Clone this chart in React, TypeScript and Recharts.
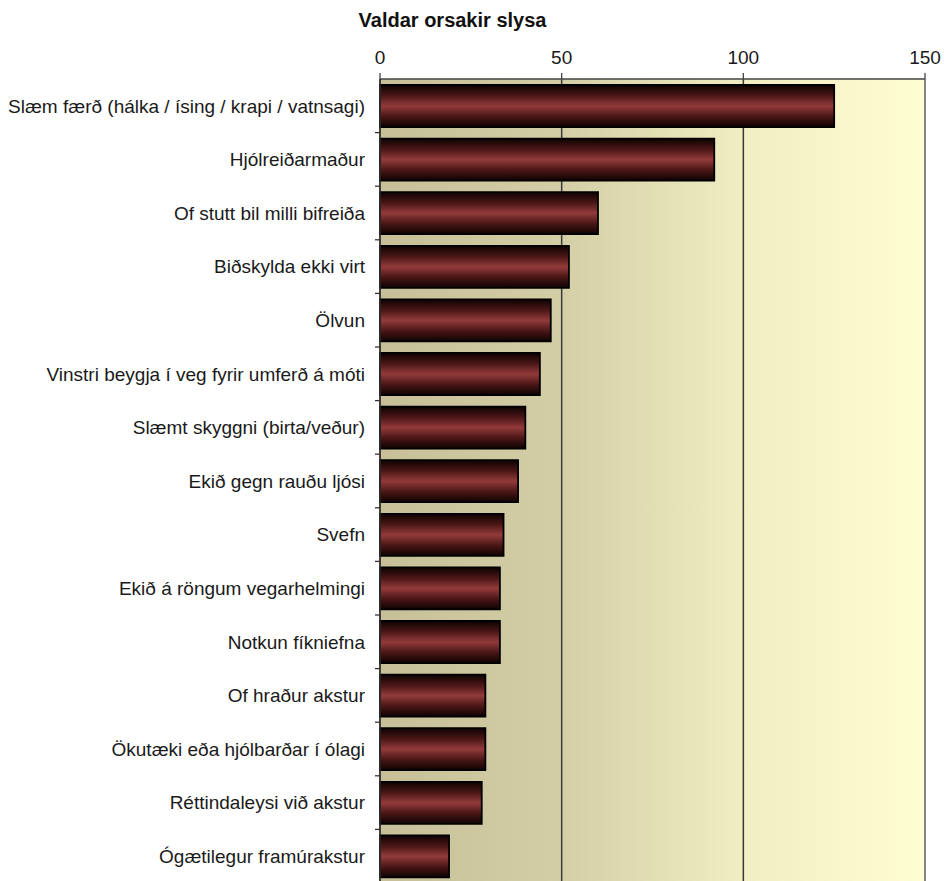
import React from "react";
import { BarChart, Bar, XAxis, YAxis, CartesianGrid, ReferenceLine } from "recharts";

const categories: string[] = [
  "Slæm færð (hálka / ísing / krapi / vatnsagi)",
  "Hjólreiðarmaður",
  "Of stutt bil milli bifreiða",
  "Biðskylda ekki virt",
  "Ölvun",
  "Vinstri beygja í veg fyrir umferð á móti",
  "Slæmt skyggni (birta/veður)",
  "Ekið gegn rauðu ljósi",
  "Svefn",
  "Ekið á röngum vegarhelmingi",
  "Notkun fíkniefna",
  "Of hraður akstur",
  "Ökutæki eða hjólbarðar í ólagi",
  "Réttindaleysi við akstur",
  "Ógætilegur framúrakstur",
];

const counts: number[] = [125, 92, 60, 52, 47, 44, 40, 38, 34, 33, 33, 29, 29, 28, 19];

const xTicks: number[] = [0, 50, 100, 150];

const title = "Valdar orsakir slysa";

const data = categories.map((name, i) => ({ name, value: counts[i] }));

const FONT = "'Liberation Sans', Arial, sans-serif";

const YTick = (props: any) => {
  const { x, y, payload } = props;
  const off = payload && typeof payload.offset === "number" ? payload.offset : 26.8;
  return (
    <g>
      <text
        x={x - 15}
        y={y}
        dy="0.36em"
        textAnchor="end"
        fontSize={19}
        fill="#1a1a1a"
        fontFamily={FONT}
      >
        {payload.value}
      </text>
      <line x1={x - 5} x2={x} y1={y + off} y2={y + off} stroke="#333" strokeWidth={1.3} />
    </g>
  );
};

export default function App() {
  return (
    <div
      style={{
        position: "absolute",
        left: 0,
        top: 0,
        width: 944,
        height: 881,
        overflow: "hidden",
        background: "#fff",
      }}
    >
      <div
        style={{
          position: "absolute",
          left: 0,
          top: 8,
          width: 905,
          textAlign: "center",
          fontFamily: FONT,
          fontWeight: "bold",
          fontSize: 20,
          lineHeight: "24px",
          color: "#111",
        }}
      >
        {title}
      </div>
      <BarChart
        width={944}
        height={883}
        data={data}
        layout="vertical"
        margin={{ top: 0, right: 19, bottom: 0, left: 0 }}
        barSize={42}
      >
        <defs>
          <linearGradient id="bgGrad" x1="0" y1="0" x2="1" y2="0">
            <stop offset="0%" stopColor="#c6bf98" />
            <stop offset="33%" stopColor="#d4cea6" />
            <stop offset="67%" stopColor="#f1eec2" />
            <stop offset="100%" stopColor="#fffdd2" />
          </linearGradient>
          <linearGradient id="barGrad" x1="0" y1="0" x2="0" y2="1">
            <stop offset="0%" stopColor="#0e0202" />
            <stop offset="25%" stopColor="#4a1616" />
            <stop offset="50%" stopColor="#933a3a" />
            <stop offset="75%" stopColor="#4a1616" />
            <stop offset="100%" stopColor="#0e0202" />
          </linearGradient>
        </defs>
        <CartesianGrid
          horizontal={false}
          vertical={true}
          stroke="#3a3a3a"
          strokeWidth={1.5}
          fill="url(#bgGrad)"
          fillOpacity={1}
        />
        <ReferenceLine x={150} stroke="#8c8c8c" strokeWidth={1.5} />
        <XAxis
          type="number"
          orientation="top"
          domain={[0, 150]}
          ticks={xTicks}
          height={79}
          tickSize={6}
          tickMargin={9}
          axisLine={{ stroke: "#444", strokeWidth: 1.5 }}
          tickLine={{ stroke: "#444", strokeWidth: 1.3 }}
          tick={{ fontSize: 19, fill: "#1a1a1a", fontFamily: FONT }}
          interval={0}
        />
        <YAxis
          type="category"
          dataKey="name"
          width={380}
          tickSize={0}
          tickMargin={0}
          tickLine={false}
          axisLine={{ stroke: "#333", strokeWidth: 1.5 }}
          tick={<YTick />}
          interval={0}
        />
        <Bar
          dataKey="value"
          fill="url(#barGrad)"
          stroke="#000"
          strokeWidth={1.8}
          isAnimationActive={false}
        />
      </BarChart>
    </div>
  );
}
